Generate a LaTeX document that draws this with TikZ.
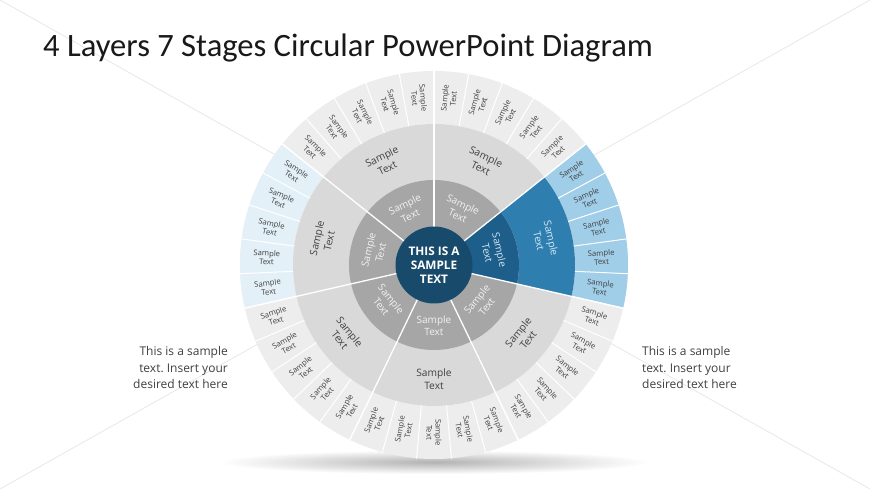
\documentclass[tikz,border=0pt]{standalone}
\usepackage{fontspec}
\setmainfont{Open Sans}
\newfontfamily\titlefont{Carlito}
\frenchspacing
\definecolor{outergray}{HTML}{EDEDED}
\definecolor{ringtwo}{HTML}{D9D9D9}
\definecolor{ringone}{HTML}{A6A6A6}
\definecolor{centerblue}{HTML}{184B6B}
\definecolor{bluetwo}{HTML}{2E7EB0}
\definecolor{blueone}{HTML}{1E5E8A}
\definecolor{cellblue}{HTML}{A0CDE8}
\definecolor{celllight}{HTML}{E3F0F8}
\definecolor{txtdark}{HTML}{404040}
\definecolor{txtlight}{HTML}{F2F2F2}
\definecolor{txtblue}{HTML}{D4E9F6}
\definecolor{diagline}{HTML}{E8E8E8}
\tikzset{
  outtxt/.style={font=\fontsize{7.7}{8.8}\selectfont, text=txtdark, align=center, inner sep=0pt},
  midtxt/.style={font=\fontsize{10.2}{12.5}\selectfont, text=txtdark, align=center, inner sep=0pt},
  inntxt/.style={font=\fontsize{10}{12.5}\selectfont, text=txtlight, align=center, inner sep=0pt},
  sidetxt/.style={font=\fontsize{12}{16.8}\selectfont, text=txtdark, inner sep=0pt},
  sep/.style={white, line width=1pt},
  majorsep/.style={white, line width=1.3pt},
}
\begin{document}
\begin{tikzpicture}[x=1pt,y=1pt]
\useasboundingbox (0,0) rectangle (870,489);
\fill[white] (0,0) rectangle (870,489);
% faint slide diagonals
\coordinate (tl) at (0,489);
\coordinate (tr) at (870,489);
\coordinate (bl) at (0,0);
\coordinate (br) at (870,0);
\draw[diagline, line width=0.8pt] (tl) -- (br);
\draw[diagline, line width=0.8pt] (bl) -- (tr);
% shadow under the wheel
\shade[inner color=black!30, outer color=white] (434,27) ellipse (215 and 12);
\begin{scope}[shift={(434,224)}]
  % outer ring
  \fill[outergray, even odd rule] (0,0) circle (194) (0,0) circle (141);
  \fill[cellblue] (-12.857:141) arc[start angle=-12.857, end angle=38.571, radius=141]
     -- (38.571:194) arc[start angle=38.571, end angle=-12.857, radius=194] -- cycle;
  \fill[celllight] (141.429:141) arc[start angle=141.429, end angle=192.857, radius=141]
     -- (192.857:194) arc[start angle=192.857, end angle=141.429, radius=194] -- cycle;
  % second ring
  \fill[ringtwo] (0,0) circle (141);
  \fill[bluetwo] (-12.857:85) arc[start angle=-12.857, end angle=38.571, radius=85]
     -- (38.571:141) arc[start angle=38.571, end angle=-12.857, radius=141] -- cycle;
  % inner ring
  \fill[ringone] (0,0) circle (85);
  \fill[blueone] (-12.857:38) arc[start angle=-12.857, end angle=38.571, radius=38]
     -- (38.571:85) arc[start angle=38.571, end angle=-12.857, radius=85] -- cycle;
  % outer cell separators
  \foreach \k in {0,...,34}{
    \pgfmathsetmacro\a{90-10.285714*\k}
    \draw[sep] (\a:141) -- (\a:194.5);
  }
  % major separators
  \foreach \j in {0,...,6}{
    \pgfmathsetmacro\a{90-51.428571*\j}
    \draw[majorsep] (\a:36) -- (\a:194.5);
  }
  % center
  \node[circle, fill=centerblue, minimum size=77, inner sep=0pt, text=white,
        font=\bfseries\fontsize{11.8}{14}\selectfont, align=center] (c) at (0,0)
        {THIS IS A\\SAMPLE\\TEXT};
  % outer labels
  \foreach \k in {0,...,34}{
    \pgfmathsetmacro\t{90-10.285714*(\k+0.5)}
    \pgfmathsetmacro\r{\t>-90.5 ? \t : \t+180}
    \node[outtxt, rotate=\r] (o\k) at (\t:167.5) {Sample\\Text};
  }
  % ring labels
  \foreach \j/\rot in {0/-25.714, 1/-77.143, 2/51.429, 3/0, 4/-51.429, 5/77.143, 6/25.714}{
    \pgfmathsetmacro\c{64.285714-51.428571*\j}
    \ifnum\j=1
      \node[midtxt, text=txtblue, rotate=\rot] (m\j) at (\c:114) {Sample\\Text};
      \node[inntxt, text=txtblue, rotate=\rot] (i\j) at (\c:61) {Sample\\Text};
    \else
      \node[midtxt, rotate=\rot] (m\j) at (\c:114) {Sample\\Text};
      \node[inntxt, rotate=\rot] (i\j) at (\c:61) {Sample\\Text};
    \fi
  }
\end{scope}
% title
\node[anchor=base west, inner sep=0pt, font=\titlefont\fontsize{32.6}{36}\selectfont, text=black!90]
  (title) at (43,432) {4 Layers 7 Stages Circular PowerPoint Diagram};
% side texts
\node[sidetxt, align=right, anchor=north east] (lt) at (228,143)
  {This is a sample\\text. Insert your\\desired text here};
\node[sidetxt, align=left, anchor=north west] (rt) at (642,143)
  {This is a sample\\text. Insert your\\desired text here};
\end{tikzpicture}
\end{document}
